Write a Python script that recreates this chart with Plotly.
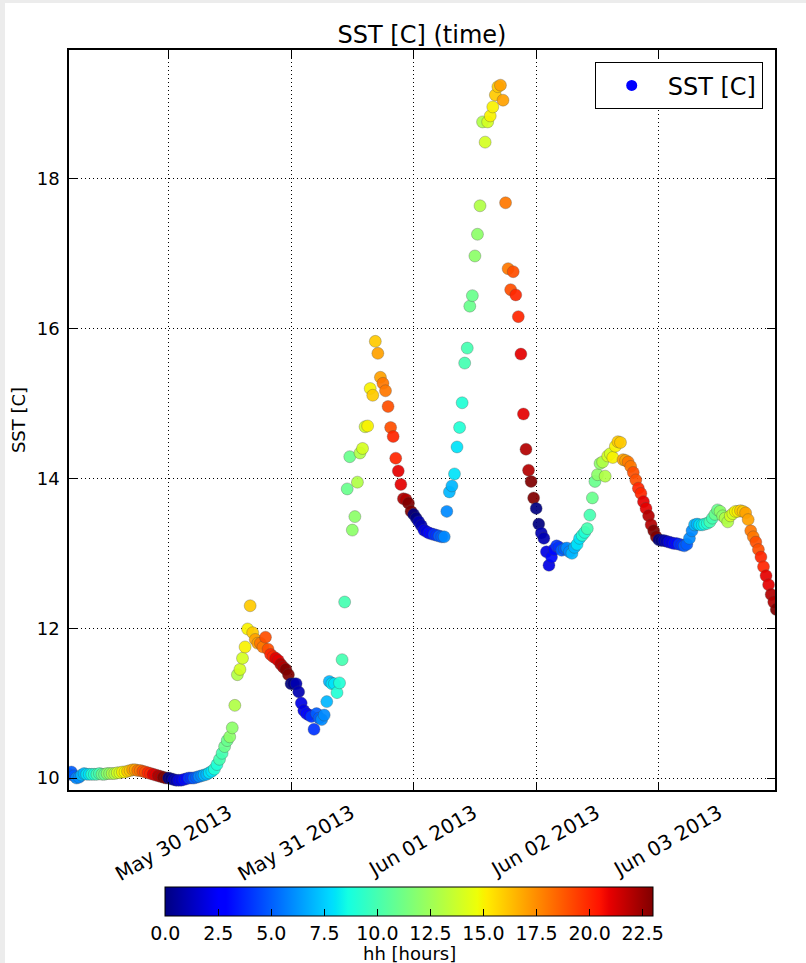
import pandas as pd
import plotly.graph_objects as go

# ---------------- data ----------------
start_time = "2013-05-29 04:30"   # first sample; samples every 30 minutes
sample_step = "30min"

sst_may29 = [10.05, 10.08, 10.03, 10.0, 10.01, 10.04, 10.06, 10.05, 10.05, 10.05,
             10.05, 10.05, 10.06, 10.05, 10.05, 10.06, 10.06, 10.06, 10.06, 10.07,
             10.07, 10.08, 10.08, 10.09, 10.1, 10.11, 10.11, 10.1, 10.1, 10.09,
             10.08, 10.07, 10.06, 10.05, 10.04, 10.03, 10.02, 10.01, 10.0]
sst_may30 = [10.0, 9.99, 9.98, 9.97, 9.97, 9.97, 9.98, 9.99, 10.0, 10.0,
             10.0, 10.01, 10.02, 10.03, 10.04, 10.05, 10.07, 10.09, 10.12, 10.18,
             10.25, 10.33, 10.42, 10.5, 10.55, 10.67, 10.97, 11.38, 11.45, 11.6,
             11.75, 11.99, 12.3, 11.94, 11.85, 11.8, 11.8, 11.75, 11.88, 11.72,
             11.65, 11.62, 11.6, 11.57, 11.52, 11.48, 11.45, 11.38]
sst_may31 = [11.26, 11.26, 11.26, 11.15, 11.0, 10.9, 10.86, 10.84, 10.82, 10.65,
             10.86, 10.8, 10.78, 10.84, 11.02, 11.29, 11.26, 11.26, 11.14, 11.27,
             11.58, 12.35, 13.86, 14.29, 13.31, 13.49, 13.95, 14.34, 14.4, 14.69,
             14.7, 15.2, 15.11, 15.83, 15.67, 15.35, 15.27, 15.17, 14.96, 14.68,
             14.56, 14.27, 14.1, 13.92, 13.73, 13.72, 13.67, 13.56]
sst_jun01 = [13.52, 13.47, 13.42, 13.37, 13.31, 13.29, 13.27, 13.26, 13.25, 13.24,
             13.23, 13.22, 13.22, 13.56, 13.82, 13.9, 14.06, 14.42, 14.68, 15.01,
             15.54, 15.74, 16.3, 16.44, 16.97, 17.26, 17.64, 18.76, 18.49, 18.76,
             18.84, 18.96, 19.12, 19.23, 19.25, 19.05, 17.68, 16.8, 16.52, 16.76,
             16.45, 16.16, 15.66, 14.86, 14.39, 14.11, 13.96, 13.74]
sst_jun02 = [13.6, 13.39, 13.27, 13.2, 13.02, 12.84, 12.95, 13.05, 13.1, 13.08,
             13.04, 13.06, 13.07, 13.02, 13.0, 13.08, 13.12, 13.2, 13.24, 13.28,
             13.33, 13.51, 13.74, 13.96, 14.05, 14.2, 14.22, 14.03, 14.3, 14.33,
             14.28, 14.43, 14.49, 14.48, 14.25, 14.24, 14.22, 14.16, 14.08, 13.98,
             13.87, 13.8, 13.69, 13.6, 13.5, 13.38, 13.3, 13.22]
sst_jun03 = [13.18, 13.17, 13.17, 13.16, 13.15, 13.14, 13.13, 13.13, 13.12, 13.11,
             13.1, 13.12, 13.2, 13.3, 13.38, 13.39, 13.38, 13.38, 13.39, 13.4,
             13.42, 13.47, 13.52, 13.58, 13.56, 13.5, 13.47, 13.42, 13.5, 13.53,
             13.56, 13.56, 13.57, 13.56, 13.54, 13.45, 13.3, 13.22, 13.15, 13.05,
             12.95, 12.82, 12.7, 12.58, 12.45, 12.35, 12.25]

date_ticks = ["2013-05-30", "2013-05-31", "2013-06-01", "2013-06-02", "2013-06-03"]
x_range = ["2013-05-29 04:32", "2013-06-03 22:45"]
y_range = [9.84, 19.72]
y_ticks = [10, 12, 14, 16, 18]
cbar_ticks = [0.0, 2.5, 5.0, 7.5, 10.0, 12.5, 15.0, 17.5, 20.0, 22.5]
hour_min, hour_max = 0, 23

sst = sst_may29 + sst_may30 + sst_may31 + sst_jun01 + sst_jun02 + sst_jun03
times = pd.date_range(start_time, periods=len(sst), freq=sample_step)
hours = list(times.hour)

# matplotlib "jet" colormap
jet = [
    [0.0, "rgb(0,0,128)"], [0.11, "rgb(0,0,255)"], [0.125, "rgb(0,0,255)"],
    [0.34, "rgb(0,219,255)"], [0.35, "rgb(0,229,247)"], [0.375, "rgb(20,255,226)"],
    [0.64, "rgb(238,255,8)"], [0.65, "rgb(247,245,0)"], [0.66, "rgb(255,236,0)"],
    [0.89, "rgb(255,19,0)"], [0.91, "rgb(232,0,0)"], [1.0, "rgb(128,0,0)"],
]

FONT = "DejaVu Sans"
W, H = 806, 963
L, R, T, B = 69, 775, 50, 790   # plot area in px
PW, PH = R - L, B - T

def px_x(p):
    return (p - L) / PW

def px_y(p):
    return (B - p) / PH

fig = go.Figure()
fig.add_trace(go.Scatter(
    x=times, y=sst, mode="markers", showlegend=False,
    marker=dict(
        color=hours, colorscale=jet, cmin=hour_min, cmax=hour_max, size=12,
        opacity=0.92,
        line=dict(width=0.6, color="rgba(70,70,70,0.55)"),
        colorbar=dict(
            orientation="h",
            x=px_x(409.25), xanchor="center", y=px_y(886.5), yanchor="top",
            lenmode="fraction", len=488 / PW, thickness=29, xpad=0, ypad=0,
            outlinecolor="black", outlinewidth=1,
            tickvals=cbar_ticks, tickformat=".1f", ticks="inside", ticklen=7,
            tickcolor="black", tickfont=dict(family=FONT, size=19, color="black"),
        ),
    ),
))
fig.add_trace(go.Scatter(
    x=[None], y=[None], mode="markers", name="SST [C]",
    marker=dict(color="#0000ff", size=11),
))

grid = dict(showgrid=True, gridcolor="black", gridwidth=1, griddash="1px,3px",
            showline=True, linecolor="black", linewidth=1.5, mirror="ticks",
            ticks="inside", ticklen=8, tickcolor="black", zeroline=False)

fig.update_xaxes(type="date", range=x_range, tickvals=date_ticks,
                 tickformat="%b %d %Y", tickangle=-30,
                 tickfont=dict(family=FONT, size=20, color="black"),
                 ticklabelshift=60, ticklabelstandoff=2, **grid)
fig.update_yaxes(range=y_range, tickvals=y_ticks, ticklabelstandoff=4,
                 tickfont=dict(family=FONT, size=18, color="black"),
                 title=dict(text="SST [C]", standoff=6,
                            font=dict(family=FONT, size=18, color="black")),
                 **grid)

# light grey frame of the original screenshot
fig.add_shape(type="rect", xref="paper", yref="paper",
              x0=px_x(5), x1=px_x(W), y0=px_y(H), y1=px_y(3),
              fillcolor="white", line=dict(width=0), layer="below")

# colour-bar label
fig.add_annotation(text="hh [hours]", xref="paper", yref="paper",
                   x=px_x(409.25), y=px_y(953), xanchor="center", yanchor="middle",
                   showarrow=False, font=dict(family=FONT, size=18, color="black"))

fig.update_layout(
    width=W, height=H,
    margin=dict(l=L, r=W - R, t=T, b=H - B, autoexpand=False),
    paper_bgcolor="#ececec", plot_bgcolor="white",
    font=dict(family=FONT, color="black"),
    title=dict(text="SST [C] (time)", x=(L + R) / 2 / W, xanchor="center",
               yref="container", y=1 - 35 / H, yanchor="middle",
               font=dict(family=FONT, size=24, color="black")),
    legend=dict(x=px_x(762.7), xanchor="right",
                y=px_y(62.3), yanchor="top", itemwidth=62,
                bgcolor="white", bordercolor="black", borderwidth=1,
                font=dict(family=FONT, size=24, color="black")),
)

fig.write_html("out.html")
